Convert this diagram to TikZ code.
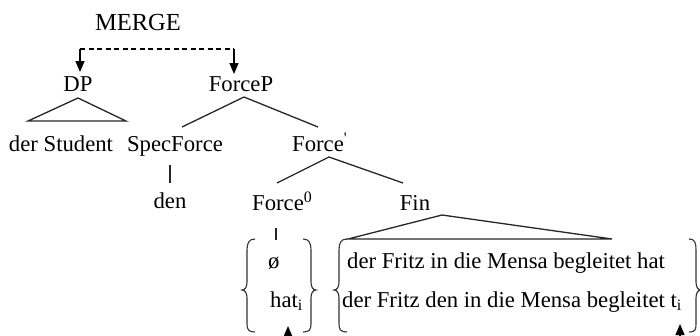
\documentclass[tikz,border=0pt]{standalone}
\usepackage{fontspec}
\setmainfont{Liberation Serif}
\usetikzlibrary{arrows.meta}
\begin{document}
\begin{tikzpicture}[x=1pt,y=-1pt,
  lbl/.style={inner sep=0pt,anchor=base,font=\fontsize{22.7}{27}\selectfont},
  lblw/.style={lbl,anchor=base west},
  edge/.style={line width=1.3pt,draw=black!85},
  arr/.style={line width=1.3pt,-{Triangle[length=11pt,width=9pt]}},
  brace/.style={line width=1.1pt,draw=black!80}]
\useasboundingbox (0,0) rectangle (700,335);
\clip (0,0) rectangle (700,335);
% nodes
\node[lbl,font=\fontsize{24.5}{28}\selectfont] (merge) at (138,30) {MERGE};
\node[lbl] (dp) at (78,91) {DP};
\node[lbl] (forcep) at (241,91) {ForceP};
\node[lbl] (student) at (61,151) {der Student};
\node[lbl] (spec) at (175,151) {SpecForce};
\node[lblw] (forcebar) at (292,151) {Force\textsuperscript{\textquotesingle}};
\node[lbl] (den) at (170,208) {den};
\node[lblw] (force0) at (252,210) {Force\textsuperscript{0}};
\node[lbl] (fin) at (415,210) {Fin};
\node[lblw] (phi) at (268,268) {ø};
\node[lblw] (hat) at (270,307) {hat\textsubscript{i}};
\node[lblw] (line1) at (347,268) {der Fritz in die Mensa begleitet hat};
\node[lblw] (line2) at (342,307) {der Fritz den in die Mensa begleitet t\textsubscript{i}};
% coordinates
\coordinate (mL) at (80,49);
\coordinate (mR) at (234,49);
\coordinate (dpTip) at (80,72);
\coordinate (fpTip) at (234,74);
\coordinate (dpA) at (78,98);
\coordinate (dpL) at (28,121);
\coordinate (dpR) at (126,121);
\coordinate (fpA) at (244,97);
\coordinate (fpL) at (182,127);
\coordinate (fpR) at (318,127);
\coordinate (fbA) at (329,157);
\coordinate (fbL) at (277,183);
\coordinate (fbR) at (403,183);
\coordinate (spT) at (170,165);
\coordinate (spB) at (170,183);
\coordinate (f0T) at (276,228);
\coordinate (f0B) at (276,240);
\coordinate (finA) at (442,215);
\coordinate (finL) at (348,239);
\coordinate (finR) at (612,239);
\coordinate (a1s) at (288,350);
\coordinate (a1t) at (288,326);
\coordinate (a2s) at (680,350);
\coordinate (a2t) at (680,324);
% merge connector
\draw[line width=1.3pt,dash pattern=on 5pt off 3.5pt] (mL) -- (mR);
\draw[arr] (mL) -- (dpTip);
\draw[arr] (mR) -- (fpTip);
% tree edges
\draw[edge] (dpA) -- (dpL) -- (dpR) -- cycle;
\draw[edge] (fpL) -- (fpA) -- (fpR);
\draw[edge] (fbL) -- (fbA) -- (fbR);
\draw[edge] (spT) -- (spB);
\draw[edge] (f0T) -- (f0B);
\draw[edge] (finA) -- (finL) -- (finR) -- cycle;
% braces
\draw[brace] (255,239) .. controls (249,239) and (247,243) .. (247,250) -- (247,282)
  .. controls (247,287) and (245,290) .. (242,290) .. controls (245,290) and (247,293) .. (247,298)
  -- (247,324) .. controls (247,330) and (249,332) .. (255,332);
\draw[brace] (303,239) .. controls (309,239) and (311,243) .. (311,250) -- (311,282)
  .. controls (311,287) and (313,290) .. (316,290) .. controls (313,290) and (311,293) .. (311,298)
  -- (311,324) .. controls (311,330) and (309,332) .. (303,332);
\draw[brace] (347,239) .. controls (341,239) and (339,243) .. (339,250) -- (339,282)
  .. controls (339,287) and (337,290) .. (334,290) .. controls (337,290) and (339,293) .. (339,298)
  -- (339,324) .. controls (339,330) and (341,332) .. (347,332);
\draw[brace] (689,239) .. controls (695,239) and (696,243) .. (696,250) -- (696,282)
  .. controls (696,287) and (698,290) .. (701,290) .. controls (698,290) and (696,293) .. (696,298)
  -- (696,324) .. controls (696,330) and (695,332) .. (689,332);
% arrows at bottom
\draw[arr] (a1s) -- (a1t);
\draw[arr] (a2s) -- (a2t);
\end{tikzpicture}
\end{document}
